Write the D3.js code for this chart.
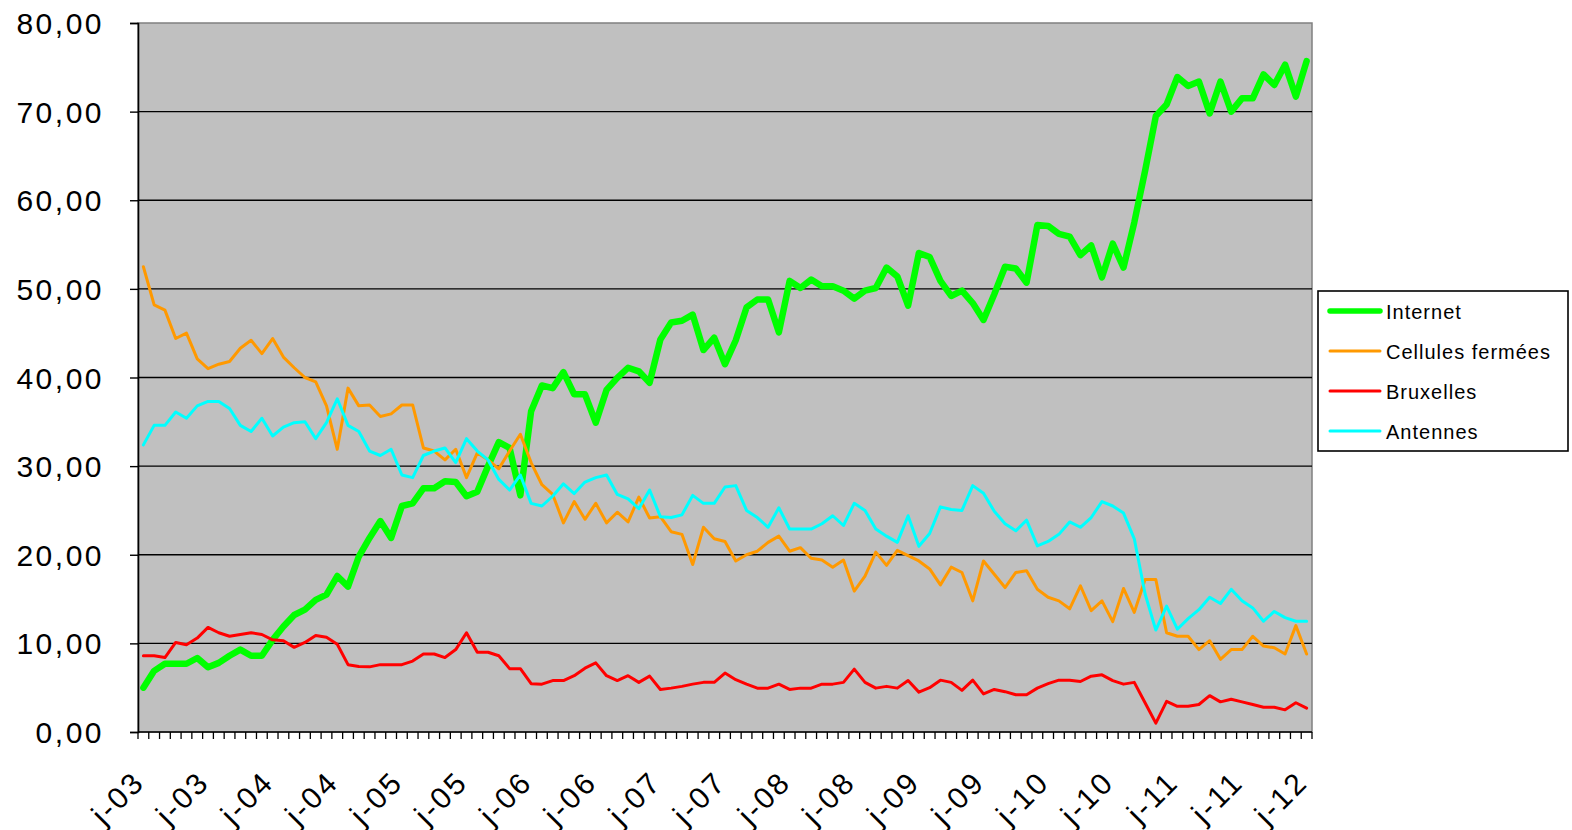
<!DOCTYPE html>
<html>
<head>
<meta charset="utf-8">
<script src="https://cdn.jsdelivr.net/npm/d3@7"></script>
<style>
  html, body { margin: 0; padding: 0; background: #ffffff; }
  svg { display: block; }
  text { font-family: "Liberation Sans", Arial, sans-serif; fill: #000; }
</style>
</head>
<body>
<svg id="chart" width="1572" height="830"></svg>
<script>
// ---- data ----
const monthInitials = ["j","f","m","a","m","j","j","a","s","o","n","d"];
const startYear = 2003;
const nPoints = 109; // Jan 2003 .. Jan 2012
const categories = d3.range(nPoints).map(i =>
  monthInitials[i % 12] + "-" + String((startYear + Math.floor(i / 12)) % 100).padStart(2, "0"));
const labelEvery = 6;

const yTicks = [0, 10, 20, 30, 40, 50, 60, 70, 80];

const internet = [
  5.0, 6.9, 7.7, 7.7, 7.7, 8.35, 7.3, 7.8, 8.6, 9.3,
  8.6, 8.6, 10.4, 11.9, 13.2, 13.8, 14.9, 15.5, 17.6, 16.4,
  19.8, 21.9, 23.8, 21.9, 25.5, 25.8, 27.5, 27.5, 28.3, 28.2,
  26.6, 27.1, 30.0, 32.7, 32.05, 26.7, 36.2, 39.1, 38.8, 40.6,
  38.1, 38.1, 34.9, 38.6, 39.95, 41.1, 40.7, 39.4, 44.3, 46.2,
  46.4, 47.1, 43.1, 44.5, 41.5, 44.2, 47.9, 48.8, 48.8, 45.1,
  50.9, 50.1, 51.05, 50.3, 50.3, 49.8, 48.9, 49.8, 50.1, 52.4,
  51.4, 48.1, 54.05, 53.6, 50.9, 49.2, 49.8, 48.4, 46.5, 49.4,
  52.5, 52.3, 50.7, 57.2, 57.1, 56.2, 55.9, 53.8, 54.9, 51.3,
  55.1, 52.4, 57.5, 63.3, 69.5, 70.8, 73.9, 72.9, 73.4, 69.8,
  73.4, 70.0, 71.5, 71.5, 74.2, 73.0, 75.3, 71.7, 75.7
];
const cellulesFermees = [
  52.5, 48.2, 47.6, 44.4, 45.0, 42.1, 41.0, 41.5, 41.8, 43.3,
  44.2, 42.7, 44.4, 42.3, 41.1, 40.0, 39.5, 36.8, 31.9, 38.8,
  36.8, 36.9, 35.6, 35.9, 36.9, 36.9, 32.05, 31.7, 30.7, 31.9,
  28.7, 31.5, 30.7, 29.7, 31.7, 33.6, 30.4, 27.9, 26.8, 23.6,
  26.0, 24.0, 25.8, 23.6, 24.8, 23.7, 26.5, 24.15, 24.3, 22.6,
  22.3, 18.9, 23.1, 21.8, 21.5, 19.3, 20.0, 20.4, 21.4, 22.1,
  20.4, 20.8, 19.6, 19.4, 18.6, 19.4, 15.9, 17.6, 20.3, 18.8,
  20.5, 19.9, 19.3, 18.4, 16.6, 18.6, 18.0, 14.8, 19.3, 17.8,
  16.3, 18.0, 18.2, 16.1, 15.2, 14.8, 13.9, 16.5, 13.7, 14.8,
  12.45, 16.2, 13.5, 17.2, 17.2, 11.2, 10.8, 10.8, 9.3, 10.3,
  8.2, 9.3, 9.3, 10.8, 9.7, 9.5, 8.8, 12.0, 8.8
];
const bruxelles = [
  8.6, 8.6, 8.4, 10.1, 9.85, 10.6, 11.8, 11.2, 10.8, 11.0,
  11.2, 11.0, 10.4, 10.3, 9.55, 10.1, 10.9, 10.7, 9.9, 7.6,
  7.4, 7.35, 7.6, 7.6, 7.6, 8.0, 8.8, 8.8, 8.4, 9.3,
  11.2, 9.0, 9.0, 8.6, 7.15, 7.15, 5.45, 5.4, 5.8, 5.8,
  6.35, 7.2, 7.8, 6.35, 5.8, 6.35, 5.6, 6.3, 4.8, 4.95,
  5.15, 5.4, 5.6, 5.6, 6.65, 5.9, 5.4, 4.95, 4.95, 5.4,
  4.8, 4.95, 4.95, 5.4, 5.4, 5.6, 7.1, 5.6, 4.95, 5.15,
  4.95, 5.8, 4.5, 5.0, 5.85, 5.6, 4.7, 5.85, 4.3, 4.8,
  4.55, 4.2, 4.2, 4.95, 5.45, 5.85, 5.85, 5.7, 6.3, 6.45,
  5.8, 5.4, 5.6, 3.3, 1.0, 3.45, 2.9, 2.9, 3.1, 4.1,
  3.4, 3.7, 3.4, 3.1, 2.8, 2.8, 2.5, 3.3, 2.7
];
const antennes = [
  32.4, 34.6, 34.6, 36.1, 35.4, 36.8, 37.3, 37.3, 36.5, 34.6,
  33.9, 35.4, 33.4, 34.4, 34.9, 35.0, 33.1, 34.9, 37.6, 34.6,
  33.9, 31.7, 31.2, 31.9, 29.0, 28.7, 31.2, 31.7, 32.05, 30.4,
  33.1, 31.7, 30.7, 28.5, 27.3, 29.0, 25.8, 25.5, 26.6, 28.0,
  26.9, 28.2, 28.7, 29.0, 26.8, 26.3, 25.2, 27.3, 24.3, 24.2,
  24.5, 26.7, 25.8, 25.8, 27.65, 27.8, 25.0, 24.2, 23.1, 25.3,
  22.9, 22.9, 22.9, 23.5, 24.4, 23.3, 25.8, 25.0, 22.9, 22.1,
  21.4, 24.4, 20.95, 22.4, 25.4, 25.1, 25.0, 27.8, 26.95, 24.9,
  23.5, 22.7, 23.9, 21.0, 21.5, 22.3, 23.7, 23.1, 24.2, 26.0,
  25.5, 24.7, 21.8, 15.6, 11.5, 14.2, 11.6, 12.8, 13.8, 15.2,
  14.5, 16.1, 14.8, 14.0, 12.5, 13.6, 12.9, 12.5, 12.5
];

const seriesNames = ["Internet", "Cellules fermées", "Bruxelles", "Antennes"];
const seriesValues = [internet, cellulesFermees, bruxelles, antennes];
const seriesColors = ["#00FF00", "#FF9900", "#FF0000", "#00FFFF"];
const seriesWidths = [6.5, 3, 3, 3];

// ---- layout ----
const svg = d3.select("#chart");
const plot = { left: 138, right: 1312, top: 23, bottom: 732 };

const x = d3.scaleBand().domain(d3.range(nPoints)).range([plot.left, plot.right]).padding(0);
const cx = i => x(i) + x.bandwidth() / 2;
const y = d3.scaleLinear().domain([0, 80]).range([plot.bottom, plot.top]);

// plot background
svg.append("rect")
  .attr("x", plot.left).attr("y", plot.top)
  .attr("width", plot.right - plot.left).attr("height", plot.bottom - plot.top)
  .attr("fill", "#C0C0C0").attr("stroke", "#808080").attr("stroke-width", 1.5);

// gridlines
svg.append("g").selectAll("line")
  .data(yTicks.filter(v => v > 0 && v < 80))
  .join("line")
  .attr("x1", plot.left).attr("x2", plot.right)
  .attr("y1", d => y(d)).attr("y2", d => y(d))
  .attr("stroke", "#000").attr("stroke-width", 1.4);

// y axis
const yAxis = d3.axisLeft(y).tickValues(yTicks).tickSize(8).tickPadding(0)
  .tickFormat(d => d3.format(".2f")(d).replace(".", ","));
const gy = svg.append("g").attr("transform", `translate(${plot.left},0)`).call(yAxis);
gy.select(".domain").attr("stroke", "#000").attr("stroke-width", 1.6);
gy.selectAll(".tick line").attr("stroke", "#000").attr("stroke-width", 1.4);
gy.selectAll(".tick text")
  .attr("x", 104 - plot.left)
  .attr("dy", "0.35em")
  .style("font-size", "30px")
  .style("letter-spacing", "2.5px")
  .attr("text-anchor", "end")
  .attr("font-family", null);

// x axis: category boundary ticks
const gx = svg.append("g");
gx.append("line")
  .attr("x1", plot.left).attr("x2", plot.right)
  .attr("y1", plot.bottom).attr("y2", plot.bottom)
  .attr("stroke", "#000").attr("stroke-width", 1.6);
gx.selectAll("line.tk")
  .data(d3.range(nPoints + 1))
  .join("line").attr("class", "tk")
  .attr("x1", k => (k < nPoints ? x(k) : plot.right))
  .attr("x2", k => (k < nPoints ? x(k) : plot.right))
  .attr("y1", plot.bottom).attr("y2", plot.bottom + 7)
  .attr("stroke", "#000").attr("stroke-width", 1.3);

gx.selectAll("text")
  .data(d3.range(0, nPoints, labelEvery))
  .join("text")
  .attr("transform", i => `translate(${cx(i) + 3},${784}) rotate(-45)`)
  .attr("text-anchor", "end")
  .style("font-size", "30px")
  .style("letter-spacing", "2.5px")
  .text(i => categories[i]);

// series lines
const line = d3.line().x((d, i) => cx(i)).y(d => y(d));
seriesValues.forEach((vals, s) => {
  svg.append("path")
    .datum(vals)
    .attr("d", line)
    .attr("fill", "none")
    .attr("stroke", seriesColors[s])
    .attr("stroke-width", seriesWidths[s])
    .attr("stroke-linejoin", "round")
    .attr("stroke-linecap", "round");
});

// legend
const lg = svg.append("g");
lg.append("rect")
  .attr("x", 1318).attr("y", 291).attr("width", 250).attr("height", 160)
  .attr("fill", "#fff").attr("stroke", "#000").attr("stroke-width", 1.6);
seriesNames.forEach((name, s) => {
  const yy = 311 + s * 40;
  lg.append("line")
    .attr("x1", 1330).attr("x2", 1380).attr("y1", yy).attr("y2", yy)
    .attr("stroke", seriesColors[s])
    .attr("stroke-width", s === 0 ? 5.5 : 3)
    .attr("stroke-linecap", "round");
  lg.append("text")
    .attr("x", 1386).attr("y", yy + 8)
    .style("font-size", "20px")
    .style("letter-spacing", "1px")
    .text(name);
});
</script>
</body>
</html>
